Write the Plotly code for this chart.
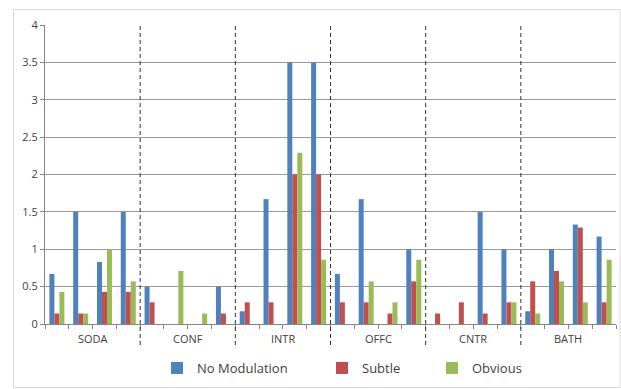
import plotly.graph_objects as go

# Room groups, each with four conditions on the x axis
groups = ["SODA", "CONF", "INTR", "OFFC", "CNTR", "BATH"]
per_group = 4

# Mean scores per condition (4 per room, rooms in the order above)
no_modulation = [0.67, 1.50, 0.83, 1.50,
                 0.50, 0.00, 0.00, 0.50,
                 0.17, 1.67, 3.50, 3.50,
                 0.67, 1.67, 0.00, 1.00,
                 0.00, 0.00, 1.50, 1.00,
                 0.17, 1.00, 1.33, 1.17]
subtle = [0.14, 0.14, 0.43, 0.43,
          0.29, 0.00, 0.00, 0.14,
          0.29, 0.29, 2.00, 2.00,
          0.29, 0.29, 0.14, 0.57,
          0.14, 0.29, 0.14, 0.29,
          0.57, 0.71, 1.29, 0.29]
obvious = [0.43, 0.14, 1.00, 0.57,
           0.00, 0.71, 0.14, 0.00,
           0.00, 0.00, 2.29, 0.86,
           0.00, 0.57, 0.29, 0.86,
           0.00, 0.00, 0.00, 0.29,
           0.14, 0.57, 0.29, 0.86]

series = [
    ("No Modulation", no_modulation, "#4F81BD", "legend"),
    ("Subtle", subtle, "#C0504D", "legend2"),
    ("Obvious", obvious, "#9BBB59", "legend3"),
]

n_cats = len(groups) * per_group
xs = list(range(n_cats))

# pixel geometry of the figure
W, H = 621, 389
L, R, T, B = 45, 5, 25, 65
pw, ph = W - L - R, H - T - B


def px_x(px):
    return (px - L) / pw


def px_y(py):
    return (H - B - py) / ph


fig = go.Figure()
for name, vals, color, leg in series:
    fig.add_trace(go.Bar(
        x=xs, y=vals, name=name, marker_color=color,
        marker_line_width=0, legend=leg,
    ))

font = "Open Sans, Liberation Sans, sans-serif"

# group labels under the axis
annotations = []
for g, label in enumerate(groups):
    annotations.append(dict(
        x=g * per_group + (per_group - 1) / 2, xref="x",
        y=px_y(338), yref="paper", yanchor="middle",
        text=label, showarrow=False,
        font=dict(size=11, color="#404040", family=font),
    ))

# dashed separators between groups and the outer frame
shapes = []
for g in range(1, len(groups)):
    xv = g * per_group - 0.5
    shapes.append(dict(
        type="line", xref="x", yref="paper",
        x0=xv, x1=xv, y0=px_y(345), y1=1,
        line=dict(color="#333333", width=1, dash="4px,3px"),
    ))
shapes.append(dict(
    type="rect", xref="paper", yref="paper",
    x0=px_x(13.5), x1=px_x(620), y0=px_y(387.5), y1=px_y(9.5),
    line=dict(color="#d9d9d9", width=1), layer="below",
))

legend_common = dict(
    orientation="h", yanchor="middle", xanchor="left",
    y=px_y(368), bgcolor="rgba(0,0,0,0)",
    font=dict(size=13, color="#404040", family=font),
)

fig.update_layout(
    width=W, height=H,
    margin=dict(l=L, r=R, t=T, b=B, autoexpand=False),
    paper_bgcolor="white", plot_bgcolor="white",
    barmode="group", bargap=0.37, bargroupgap=0,
    font=dict(family=font, size=11, color="#404040"),
    xaxis=dict(
        range=[-0.5, n_cats - 0.5],
        tickmode="array", tickvals=[i - 0.5 for i in range(n_cats + 1)],
        ticktext=[""] * (n_cats + 1),
        ticks="outside", ticklen=4, tickcolor="#868686",
        showline=True, linecolor="#868686", linewidth=1,
        showgrid=False, zeroline=False, fixedrange=True,
    ),
    yaxis=dict(
        range=[0, 4], dtick=0.5, tick0=0,
        ticks="outside", ticklen=4, tickcolor="#868686",
        showline=True, linecolor="#868686", linewidth=1,
        showgrid=True, gridcolor="#9a9a9a", gridwidth=1,
        zeroline=False, tickfont=dict(size=11, color="#404040"),
    ),
    annotations=annotations,
    shapes=shapes,
    showlegend=True,
    legend=dict(legend_common, x=px_x(157)),
    legend2=dict(legend_common, x=px_x(322)),
    legend3=dict(legend_common, x=px_x(432)),
)

fig.write_html("out.html")
